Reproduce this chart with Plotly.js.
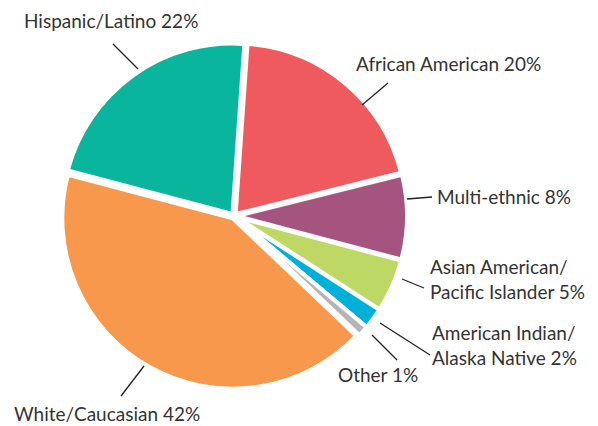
<!DOCTYPE html>
<html>
<head>
<meta charset="utf-8">
<script src="https://cdn.plot.ly/plotly-3.0.1.min.js"></script>
<style>
  body { margin: 0; background: #fff; }
  #chart { width: 598px; height: 426px; }
</style>
</head>
<body>
<div id="chart"></div>
<script>
// Dados do gráfico (sentido horário a partir do topo)
const groups = ['African American', 'Multi-ethnic', 'Asian American/<br>Pacific Islander',
                'American Indian/<br>Alaska Native', 'Other', 'White/Caucasian', 'Hispanic/Latino'];
const shares = [20, 8, 5, 2, 1, 42, 22];
const colors = ['#ef5a5f', '#a55480', '#bed865', '#00b0d8', '#b5b5b5', '#f7984c', '#0ab59e'];

// Posição dos rótulos e das linhas de chamada (pixels)
const W = 598, H = 426;
const labelPos = [
    { x: 354, y: 63 },
    { x: 435, y: 196 },
    { x: 428, y: 279 },
    { x: 430, y: 345 },
    { x: 336, y: 374 },
    { x: 12, y: 413 },
    { x: 22, y: 20 }
];
const leaders = [
    [362, 105, 388, 83],
    [407, 199, 432, 197],
    [402, 279, 424, 288],
    [380, 323, 430, 355],
    [372, 335, 397, 360],
    [144, 366, 121, 396],
    [138, 69, 113, 44]
];

const px = x => x / W;
const py = y => 1 - y / H;

const trace = {
    type: 'pie',
    labels: groups,
    values: shares,
    sort: false,
    direction: 'clockwise',
    rotation: 4,
    pull: 0.015,
    textinfo: 'none',
    hoverinfo: 'label+percent',
    marker: { colors: colors, line: { color: '#ffffff', width: 4 } },
    domain: { x: [px(234 - 173), px(234 + 173)], y: [py(216 + 173), py(216 - 173)] }
};

const annotations = groups.map((g, k) => ({
    xref: 'paper', yref: 'paper',
    x: px(labelPos[k].x), y: py(labelPos[k].y),
    xanchor: 'left', yanchor: 'middle', align: 'left',
    text: g + ' ' + shares[k] + '%',
    showarrow: false,
    font: { family: 'Lato, sans-serif', size: 19, color: '#333333' }
}));

const shapes = leaders.map(l => ({
    type: 'line', xref: 'paper', yref: 'paper',
    x0: px(l[0]), y0: py(l[1]), x1: px(l[2]), y1: py(l[3]),
    line: { color: '#222222', width: 1.3 }
}));

const layout = {
    width: W, height: H,
    margin: { t: 0, b: 0, l: 0, r: 0 },
    paper_bgcolor: '#ffffff',
    showlegend: false,
    annotations: annotations,
    shapes: shapes
};

Plotly.newPlot('chart', [trace], layout, { displayModeBar: false });
</script>
</body>
</html>
